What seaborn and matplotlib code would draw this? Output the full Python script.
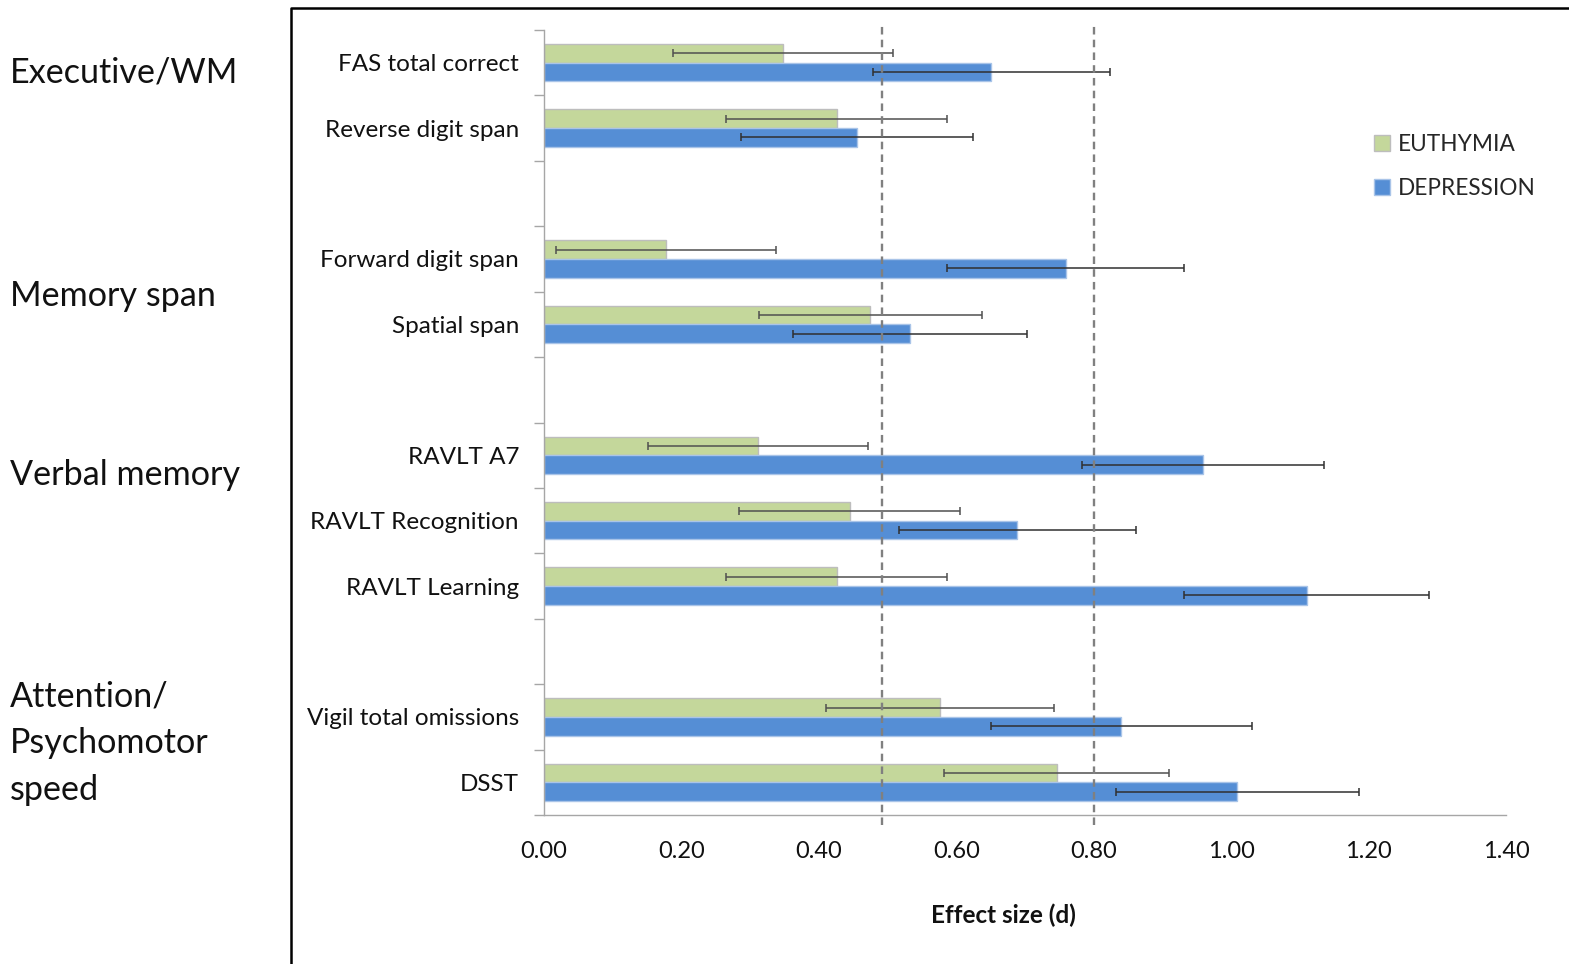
import numpy as np
import pandas as pd
import matplotlib
matplotlib.use("Agg")
import matplotlib.pyplot as plt
from matplotlib.lines import Line2D
from matplotlib.patches import Patch
import seaborn as sns

# ---------------- data ----------------
measures = ["FAS total correct", "Reverse digit span", "Forward digit span", "Spatial span",
            "RAVLT A7", "RAVLT Recognition", "RAVLT Learning",
            "Vigil total omissions", "DSST"]
slots = ["FAS total correct", "Reverse digit span", " ",
         "Forward digit span", "Spatial span", "  ",
         "RAVLT A7", "RAVLT Recognition", "RAVLT Learning", "   ",
         "Vigil total omissions", "DSST"]
groups = ["EUTHYMIA", "DEPRESSION"]
euthymia = [0.348, 0.426, 0.177, 0.475, 0.311, 0.445, 0.426, 0.576, 0.746]
euthymia_err = [0.160, 0.161, 0.160, 0.162, 0.160, 0.161, 0.161, 0.166, 0.164]
depression = [0.651, 0.456, 0.759, 0.533, 0.959, 0.689, 1.110, 0.840, 1.009]
depression_err = [0.172, 0.169, 0.173, 0.170, 0.176, 0.172, 0.178, 0.190, 0.177]
ref_lines = [0.492, 0.80]
xticks = [0.0, 0.2, 0.4, 0.6, 0.8, 1.0, 1.2, 1.4]
domain_labels = ["Executive/WM", "Memory span", "Verbal memory", "Attention/\nPsychomotor\nspeed"]
domain_ypix = [72, 296, 475, 743]

colors = {"EUTHYMIA": "#C4D79B", "DEPRESSION": "#558ED5"}

df = pd.DataFrame({
    "measure": measures * 2,
    "group": ["EUTHYMIA"] * len(measures) + ["DEPRESSION"] * len(measures),
    "value": euthymia + depression,
})

# ---------------- figure ----------------
sns.set_style("white")
plt.rcParams["font.family"] = ["Lato", "DejaVu Sans"]

W, H = 1569, 964
fig = plt.figure(figsize=(W / 100, H / 100), dpi=100)
ax = fig.add_axes([544 / W, 1 - 815 / H, (1506 - 544) / W, (815 - 30) / H])

sns.barplot(data=df, y="measure", x="value", hue="group", order=slots,
            hue_order=groups, palette=colors, orient="h", width=0.57,
            errorbar=None, ax=ax, legend=False, saturation=1,
            edgecolor="#c9c9c9", linewidth=1)

edge_cols = ["#bdbdbd", "#a9c4e8"]
errs = [euthymia_err, depression_err]
err_cols = ["#505050", "#303030"]
bar_containers = list(ax.containers)
for ci, cont in enumerate(bar_containers):
    ys, xs = [], []
    for bar in cont:
        bar.set_edgecolor(edge_cols[ci])
        ys.append(bar.get_y() + bar.get_height() / 2)
        xs.append(bar.get_width())
    ax.errorbar(xs, ys, xerr=errs[ci], fmt="none", ecolor=err_cols[ci],
                elinewidth=1.1, capsize=3.2, capthick=1.1, zorder=4)

for xv in ref_lines:
    ax.axvline(xv, ymin=-0.013, ymax=1.006, color="#808080", lw=1.7,
               linestyle=(0, (3.2, 2.2)), clip_on=False, zorder=5)

ax.set_xlim(0, 1.4)
ax.set_ylim(len(slots) - 0.5, -0.5)
ax.set_xticks(xticks)
ax.set_xticklabels([f"{t:.2f}" for t in xticks], fontsize=17)
ax.tick_params(axis="x", length=7, width=1, color="#a6a6a6", pad=12, labelcolor="#111111")
ax.tick_params(axis="y", which="major", length=0, pad=18, labelsize=17.5, labelcolor="#111111")
ax.set_yticks(np.arange(-0.5, len(slots), 1.0), minor=True)
ax.tick_params(axis="y", which="minor", length=7, width=1, color="#a6a6a6", left=True)
ax.set_ylabel("")
ax.set_xlabel("Effect size (d)", fontsize=17.5, fontweight="bold", color="#111111")
ax.xaxis.set_label_coords((1003 - 544) / (1506 - 544), -(904 - 815) / (815 - 30))

for s in ["top", "right"]:
    ax.spines[s].set_visible(False)
for s in ["left", "bottom"]:
    ax.spines[s].set_color("#a6a6a6")
    ax.spines[s].set_linewidth(1)

handles = [Patch(facecolor=colors[g], edgecolor=edge_cols[i], linewidth=1) for i, g in enumerate(groups)]
fig.legend(handles, groups, loc="upper left", bbox_to_anchor=(1374 / W, 1 - 134 / H),
           frameon=False, fontsize=16.3, handlelength=0.72, handleheight=0.72,
           handletextpad=0.35, labelspacing=1.0, borderpad=0, borderaxespad=0)

for lab, yp in zip(domain_labels, domain_ypix):
    fig.text(10 / W, 1 - yp / H, lab, fontsize=24.6, va="center", ha="left",
             color="#111111", linespacing=1.56)

# outer frame (left and top edges visible)
fx = 291 / W
fy = 1 - 8 / H
fig.add_artist(Line2D([fx, fx, 1.0], [0.0, fy, fy], transform=fig.transFigure,
                      color="black", lw=1.8))

fig.savefig("out.png", dpi=100)
